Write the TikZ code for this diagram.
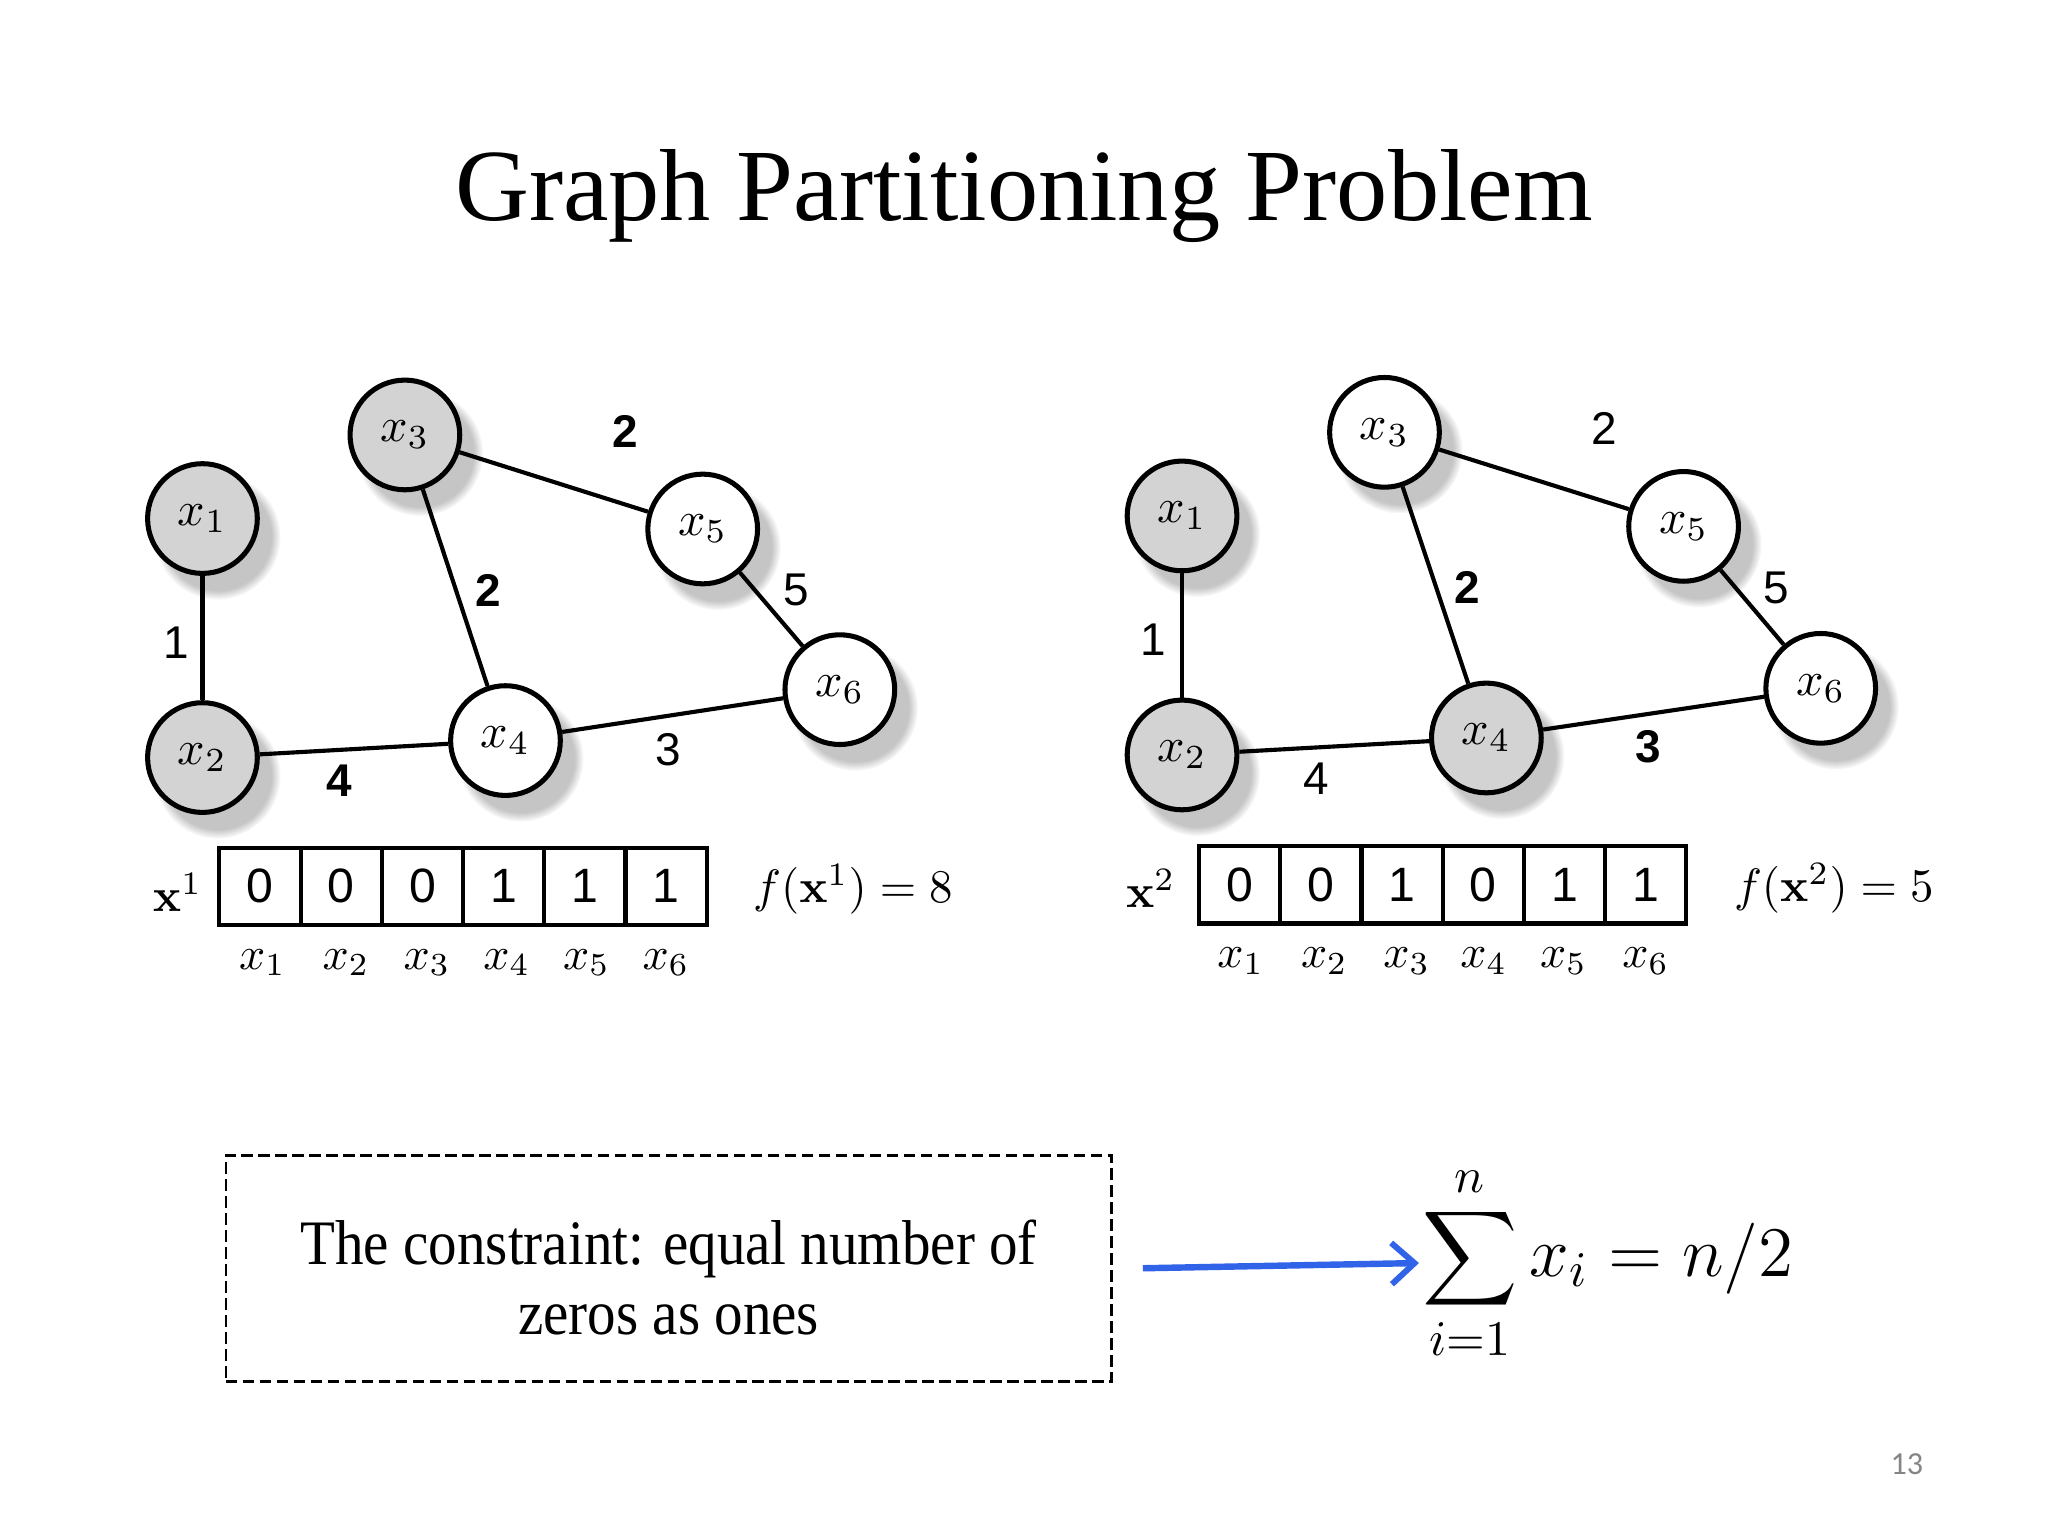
\RequirePackage{fix-cm}
\documentclass[tikz,border=0pt]{standalone}
\usepackage{exscale}
\usepackage[no-math]{fontspec}
\setmainfont{Liberation Serif}
\setsansfont{Liberation Sans}
\newfontfamily\condfont[FakeStretch=0.9]{Liberation Serif}
\newfontfamily\pagefont{Carlito}
\usetikzlibrary{
  arrows.meta, shadows, positioning
}
\definecolor{GP_FILL}{HTML}{D3D3D3}
\definecolor{GP_BLUE}{HTML}{3163E8}
\definecolor{GP_PAGE}{HTML}{858585}
\tikzset{
  %% -- graph vertex (side 1) --
  GP/vtx/.style={
    circle, draw, line width=1.1pt, fill=white,
    minimum size=8.4mm, inner sep=0pt,
    font=\fontsize{10.5}{12}\selectfont,
    circular drop shadow={shadow xshift=1.0mm, shadow yshift=-1.2mm,
      shadow scale=1.15, opacity=0.45}
  },
  %% -- graph vertex (side 0, shaded) --
  GP/vtx0/.style={GP/vtx, fill=GP_FILL},
  %% -- graph edge --
  GP/edge/.style={draw, line width=0.9pt},
  %% -- edge weight, plain and cut --
  GP/wt/.style={font=\sffamily\fontsize{10}{12}\selectfont, inner sep=1pt},
  GP/wtcut/.style={font=\sffamily\bfseries\fontsize{10}{12}\selectfont, inner sep=1pt},
  %% -- bit array cell --
  GP/cell/.style={
    draw, line width=0.9pt, minimum width=6.22mm, minimum height=5.9mm,
    inner sep=0pt, font=\sffamily\fontsize{10.5}{12}\selectfont
  },
  %% -- variable name under a cell --
  GP/sub/.style={font=\fontsize{10}{12}\selectfont, inner sep=1pt},
  %% -- math labels beside the array --
  GP/math/.style={font=\fontsize{10.2}{12}\selectfont, inner sep=1pt},
  %% -- dashed constraint box --
  GP/cbox/.style={
    draw, line width=0.6pt, dash pattern=on 2.5pt off 1.2pt,
    minimum width=67.8mm, minimum height=17.3mm
  },
  GP/ctext/.style={align=center, inner sep=0pt,
    font=\condfont\fontsize{13.8}{15.2}\selectfont},
  GP/arr/.style={-{Straight Barb[length=5pt, width=9pt, line width=1.3pt]},
    line width=1.4pt, GP_BLUE},
}

\begin{document}
\begin{tikzpicture}[x=0.1mm, y=-0.1mm]

%% ── Page frame ─────────────────────────────────────────────────────────────
\fill[white] (0,0) rectangle (1568,1176);
\useasboundingbox (0,0) rectangle (1568,1176);

%% ── Title ──────────────────────────────────────────────────────────────────
\node[font=\fontsize{22.3}{26}\selectfont] (title) at (784,150)
  {Graph Partitioning Problem};

%% ══════════════════════════════════════════════════════════════════════════
%% LEFT — partition x^1
%% ══════════════════════════════════════════════════════════════════════════
\node[GP/vtx0] (L1) at (155,397) {$x_1$};
\node[GP/vtx0] (L2) at (155,580) {$x_2$};
\node[GP/vtx0] (L3) at (310,333) {$x_3$};
\node[GP/vtx]  (L4) at (387,567) {$x_4$};
\node[GP/vtx]  (L5) at (538,405) {$x_5$};
\node[GP/vtx]  (L6) at (643,528) {$x_6$};

\draw[GP/edge] (L1) -- (L2);
\draw[GP/edge] (L2) -- (L4);
\draw[GP/edge] (L3) -- (L4);
\draw[GP/edge] (L3) -- (L5);
\draw[GP/edge] (L5) -- (L6);
\draw[GP/edge] (L4) -- (L6);

%% weights (bold = cut edge)
\node[GP/wt]    (Lw12) at (135,492) {1};
\node[GP/wtcut] (Lw24) at (260,598) {4};
\node[GP/wtcut] (Lw34) at (374,452) {2};
\node[GP/wtcut] (Lw35) at (479,330) {2};
\node[GP/wt]    (Lw56) at (610,452) {5};
\node[GP/wt]    (Lw46) at (512,574) {3};

%% bit array
\node[GP/math] (Lx) at (136,683) {$\mathbf{x}^1$};
\node[GP/cell] (Lc1) at (199.1,678.5) {0};
\node[GP/cell] (Lc2) at (261.3,678.5) {0};
\node[GP/cell] (Lc3) at (323.4,678.5) {0};
\node[GP/cell] (Lc4) at (385.6,678.5) {1};
\node[GP/cell] (Lc5) at (447.8,678.5) {1};
\node[GP/cell] (Lc6) at (509.9,678.5) {1};
\node[GP/math] (Lf) at (653,681) {$f(\mathbf{x}^1) = 8$};

\node[GP/sub] (Ls1) at (201,737) {$x_1$};
\node[GP/sub] (Ls2) at (265,737) {$x_2$};
\node[GP/sub] (Ls3) at (327,737) {$x_3$};
\node[GP/sub] (Ls4) at (388,737) {$x_4$};
\node[GP/sub] (Ls5) at (449,737) {$x_5$};
\node[GP/sub] (Ls6) at (510,737) {$x_6$};

%% ══════════════════════════════════════════════════════════════════════════
%% RIGHT — partition x^2
%% ══════════════════════════════════════════════════════════════════════════
\node[GP/vtx0] (R1) at (905,395)  {$x_1$};
\node[GP/vtx0] (R2) at (905,578)  {$x_2$};
\node[GP/vtx]  (R3) at (1060,331) {$x_3$};
\node[GP/vtx0] (R4) at (1138,565) {$x_4$};
\node[GP/vtx]  (R5) at (1289,403) {$x_5$};
\node[GP/vtx]  (R6) at (1394,527) {$x_6$};

\draw[GP/edge] (R1) -- (R2);
\draw[GP/edge] (R2) -- (R4);
\draw[GP/edge] (R3) -- (R4);
\draw[GP/edge] (R3) -- (R5);
\draw[GP/edge] (R5) -- (R6);
\draw[GP/edge] (R4) -- (R6);

%% weights (bold = cut edge)
\node[GP/wt]    (Rw12) at (883,490)  {1};
\node[GP/wt]    (Rw24) at (1008,596) {4};
\node[GP/wtcut] (Rw34) at (1123,450) {2};
\node[GP/wt]    (Rw35) at (1228,328) {2};
\node[GP/wt]    (Rw56) at (1360,450) {5};
\node[GP/wtcut] (Rw46) at (1262,572) {3};

%% bit array
\node[GP/math] (Rx) at (881,680) {$\mathbf{x}^2$};
\node[GP/cell] (Rc1) at (949.1,677.5)  {0};
\node[GP/cell] (Rc2) at (1011.3,677.5) {0};
\node[GP/cell] (Rc3) at (1073.4,677.5) {1};
\node[GP/cell] (Rc4) at (1135.6,677.5) {0};
\node[GP/cell] (Rc5) at (1197.8,677.5) {1};
\node[GP/cell] (Rc6) at (1259.9,677.5) {1};
\node[GP/math] (Rf) at (1404,680) {$f(\mathbf{x}^2) = 5$};

\node[GP/sub] (Rs1) at (950,736)  {$x_1$};
\node[GP/sub] (Rs2) at (1014,736) {$x_2$};
\node[GP/sub] (Rs3) at (1077,736) {$x_3$};
\node[GP/sub] (Rs4) at (1136,736) {$x_4$};
\node[GP/sub] (Rs5) at (1197,736) {$x_5$};
\node[GP/sub] (Rs6) at (1260,736) {$x_6$};

%% ── Constraint ─────────────────────────────────────────────────────────────
\node[GP/cbox] (cbox) at (512,971) {};
\node[GP/ctext] (ctext) at (512,978)
  {The constraint: equal number of\\zeros as ones};

\node[font=\fontsize{15.5}{18}\selectfont, inner sep=0.5pt] (sum) at (1231,967)
  {$\displaystyle\sum_{i=1}^{n} x_i = n/2$};

\coordinate (arrS) at (875,971);
\draw[GP/arr] (arrS) -- (sum.west);

%% page number
\node[font=\pagefont\fontsize{7}{8}\selectfont, color=GP_PAGE] (page)
  at (1460,1121) {13};

\end{tikzpicture}
\end{document}
